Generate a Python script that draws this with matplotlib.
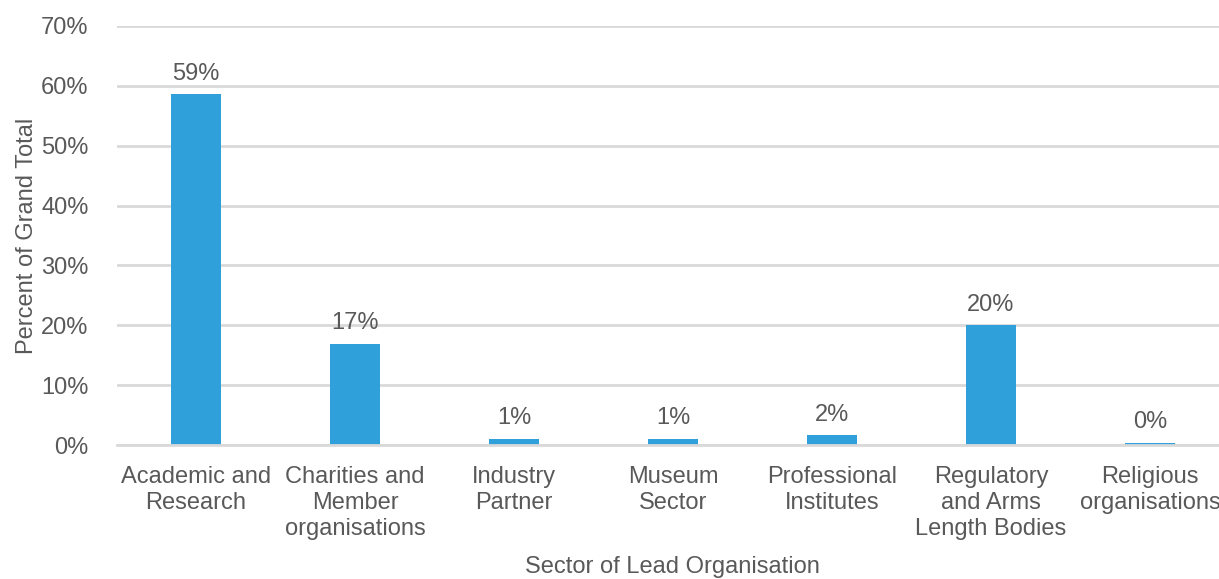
import matplotlib
matplotlib.use("Agg")
import matplotlib.pyplot as plt
from matplotlib.ticker import FuncFormatter, MultipleLocator

sectors = [
    "Academic and\nResearch",
    "Charities and\nMember\norganisations",
    "Industry\nPartner",
    "Museum\nSector",
    "Professional\nInstitutes",
    "Regulatory\nand Arms\nLength Bodies",
    "Religious\norganisations",
]
percent_of_total = [58.6, 16.9, 1.0, 1.0, 1.6, 20.0, 0.3]

bar_color = "#30A0DA"
text_color = "#595959"
grid_color = "#D9D9D9"

plt.rcParams["font.family"] = ["Liberation Sans", "DejaVu Sans"]

fig = plt.figure(figsize=(12.19, 5.79), dpi=100)
# plot area runs slightly past the right edge of the canvas
ax = fig.add_axes([116.5 / 1219, 1 - 445 / 579, (1229.5 - 116.5) / 1219, (445 - 26) / 579])

x = list(range(len(sectors)))
bars = ax.bar(x, percent_of_total, width=0.315, color=bar_color, zorder=3)

ax.set_xlim(-0.5, len(sectors) - 0.5)
ax.set_ylim(0, 70)
ax.yaxis.set_major_locator(MultipleLocator(10))
ax.yaxis.set_major_formatter(FuncFormatter(lambda v, _: f"{v:.0f}%"))

ax.grid(axis="y", color=grid_color, linewidth=2, zorder=0)
for side in ["top", "right", "left"]:
    ax.spines[side].set_visible(False)
ax.spines["bottom"].set_color(grid_color)
ax.spines["bottom"].set_linewidth(2)
ax.spines["bottom"].set_zorder(4)

ax.tick_params(axis="both", length=0, colors=text_color, labelsize=17)
ax.tick_params(axis="y", pad=20)
ax.tick_params(axis="x", pad=15)
ax.set_xticks(x)
ax.set_xticklabels(sectors, fontsize=17, color=text_color, linespacing=1.25)

for rect, val in zip(bars, percent_of_total):
    ax.annotate(f"{val:.0f}%", (rect.get_x() + rect.get_width() / 2, rect.get_height()),
                xytext=(0, 7), textcoords="offset points", ha="center", va="bottom",
                fontsize=17, color=text_color)

ax.set_ylabel("Percent of Grand Total", fontsize=17, color=text_color)
ax.yaxis.set_label_coords(-(116.5 - 27) / (1229.5 - 116.5), 0.5)
ax.set_xlabel("Sector of Lead Organisation", fontsize=17, color=text_color)
ax.xaxis.set_label_coords((672 - 116.5) / (1229.5 - 116.5), -(567 - 445) / (445 - 26))
ax.xaxis.label.set_va("center")
ax.yaxis.label.set_va("center")

fig.savefig("out.png", dpi=100)
